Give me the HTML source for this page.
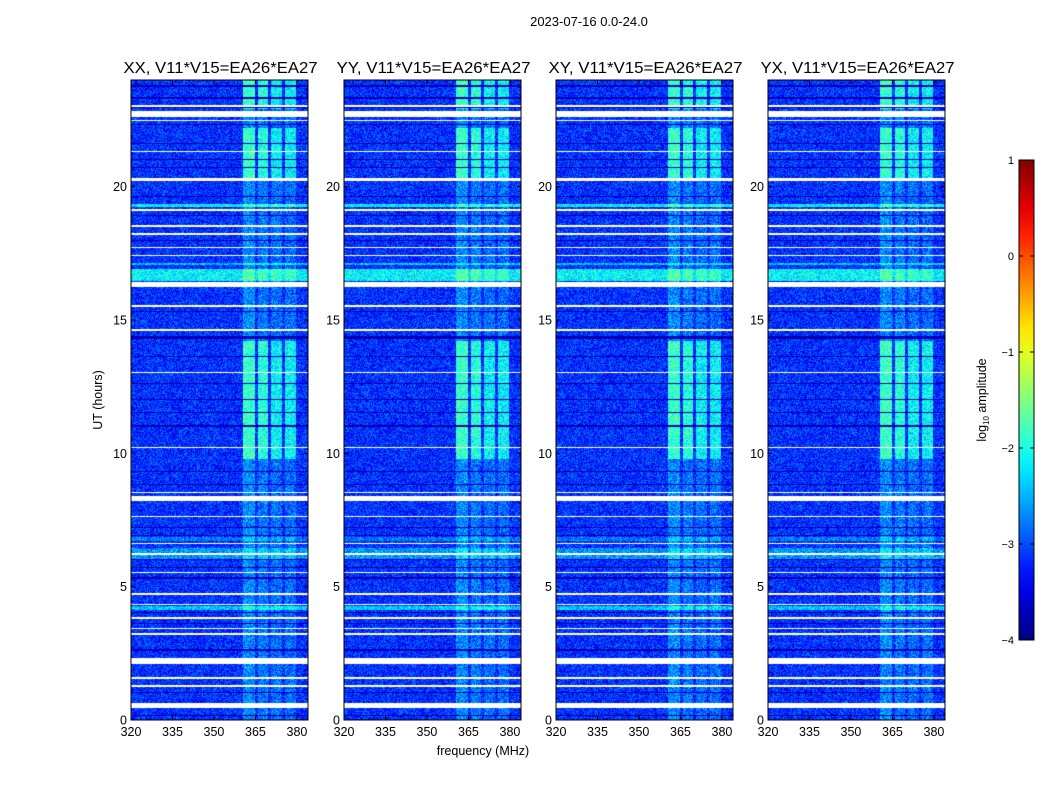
<!DOCTYPE html>
<html><head><meta charset="utf-8">
<style>
body{margin:0;background:#fff;width:1050px;height:800px;overflow:hidden;position:relative;font-family:"Liberation Sans",sans-serif;}
canvas{position:absolute;}
svg{position:absolute;left:0;top:0;}
</style></head>
<body>
<canvas id="c0" width="177" height="640" style="left:131px;top:80px;width:177px;height:640px"></canvas>
<canvas id="c1" width="177" height="640" style="left:344px;top:80px;width:177px;height:640px"></canvas>
<canvas id="c2" width="177" height="640" style="left:556px;top:80px;width:177px;height:640px"></canvas>
<canvas id="c3" width="177" height="640" style="left:768px;top:80px;width:177px;height:640px"></canvas>
<svg id="s" width="1050" height="800"></svg>
<script>
// ---- data ----
const panelTitles = ["XX, V11*V15=EA26*EA27","YY, V11*V15=EA26*EA27","XY, V11*V15=EA26*EA27","YX, V11*V15=EA26*EA27"];
const xTicks = [320,335,350,365,380];
const yTicks = [0,5,10,15,20];
const cbTicks = [1,0,-1,-2,-3,-4];
const freqRange = [320,384];
const timeRange = [0,24];
const baseLevel = -3.15;
// RFI bands [fStart,fEnd,quietBoost,activeBoost]
const bands = [[360.5,364.8,0.45,1.3],[365.9,369.5,0.35,1.2],[370.6,374.6,0.3,1.0],[375.7,379.7,0.3,1.0]];
// active intervals (hours) where bands are strong
const activeSpans = [[22.9,24],[20.3,22.2],[9.8,14.2]];
// flagged (white) intervals in hours
const gaps = [[23.0,23.05],[22.6,22.85],[22.45,22.5],[21.3,21.35],[20.2,20.33],[19.1,19.15],[18.5,18.55],[18.2,18.25],[17.7,17.75],[17.4,17.45],[16.25,16.42],[15.5,15.55],[14.6,14.65],[13.0,13.05],[10.2,10.25],[8.5,8.55],[8.2,8.4],[7.6,7.65],[6.6,6.65],[6.2,6.25],[5.5,5.55],[4.7,4.75],[4.3,4.35],[3.8,3.85],[3.4,3.45],[3.2,3.25],[2.1,2.32],[1.55,1.6],[1.25,1.3],[0.45,0.65]];
// dark (low) lines in hours
const darkLines = [[23.75,23.8],[23.3,23.35],[22.95,23.0],[22.3,22.35],[21.6,21.65],[21.0,21.05],[20.7,20.75],[19.6,19.65],[18.9,18.95],[17.95,18.0],[15.3,15.35],[14.3,14.4],[13.6,13.65],[12.6,12.65],[12.0,12.05],[11.5,11.55],[11.0,11.05],[9.3,9.35],[8.8,8.85],[7.2,7.25],[6.9,6.95],[6.0,6.05],[5.7,5.75],[5.3,5.35],[4.0,4.05],[3.6,3.65],[2.6,2.65],[1.0,1.05],[0.15,0.2]];
// broadband bright intervals [start,end,boost]
const brightRows = [[19.25,19.35,1.0],[16.45,16.9,1.0],[17.05,17.12,0.7],[6.05,6.45,0.5],[6.7,6.85,0.35],[4.12,4.28,0.75]];
const vmin=-4, vmax=1;

function inSpan(h,list){for(const s of list){if(h>=s[0]&&h<s[1])return s;}return null;}
function hash(a,b,c){let x=(a*374761393+b*668265263+c*1442695041)|0;x=(x^(x>>>13))*1274126177|0;x^=x>>>16;return (x>>>0)/4294967296;}
function jet(v){let t=(v-vmin)/(vmax-vmin);t=Math.max(0,Math.min(1,t));
 const f=(x)=>Math.max(0,Math.min(1,1.5-Math.abs(4*t-x)));
 return [f(3)*255,f(2)*255,f(1)*255];}

for(let p=0;p<4;p++){
 const cv=document.getElementById('c'+p),ctx=cv.getContext('2d');
 const W=cv.width,H=cv.height,img=ctx.createImageData(W,H);
 for(let r=0;r<H;r++){
  const h=timeRange[1]-(r+0.5)/H*(timeRange[1]-timeRange[0]);
  const gap=inSpan(h,gaps), dark=inSpan(h,darkLines), br=inSpan(h,brightRows), act=inSpan(h,activeSpans);
  for(let c=0;c<W;c++){
   const f=freqRange[0]+(c+0.5)/W*(freqRange[1]-freqRange[0]);
   let col;
   if(gap){col=[255,255,255];}
   else{
    let v=baseLevel+(hash(r,c,p)-0.5)*0.9;
    const b=bands.find(b=>f>=b[0]&&f<b[1]);
    if(b)v+=act?b[3]:b[2];
    if(br)v+=br[2];
    if(dark)v=-3.9+hash(c,r,p)*0.3;
    col=jet(v);
   }
   const i=(r*W+c)*4;img.data[i]=col[0];img.data[i+1]=col[1];img.data[i+2]=col[2];img.data[i+3]=255;
  }
 }
 ctx.putImageData(img,0,0);
}

// ---- axes ----
const NS="http://www.w3.org/2000/svg",svg=document.getElementById('s');
function el(tag,attrs,txt){const e=document.createElementNS(NS,tag);for(const k in attrs)e.setAttribute(k,attrs[k]);if(txt!==undefined)e.textContent=txt;svg.appendChild(e);return e;}
const lefts=[131,344,556,768],PW=177,PT=80,PH=640;
function xs(p,f){return lefts[p]+(f-freqRange[0])/(freqRange[1]-freqRange[0])*PW;}
function ys(h){return PT+PH-(h-timeRange[0])/(timeRange[1]-timeRange[0])*PH;}
let t=el('text',{x:589,y:26,'font-size':13,'text-anchor':'middle'},'2023-07-16 0.0-24.0');

for(let p=0;p<4;p++){
 let fr=el('rect',{x:lefts[p],y:PT,width:PW,height:PH,fill:'none',stroke:'#000','stroke-width':1});
 
 let ti=el('text',{x:lefts[p]+PW/2+1,y:73,'font-size':15.5,'text-anchor':'middle',textLength:194,lengthAdjust:'spacingAndGlyphs'},panelTitles[p]);
 
 xTicks.forEach(v=>{const x=xs(p,v);
  el('line',{x1:x,x2:x,y1:PT+PH,y2:PT+PH-4,stroke:'#000'});el('line',{x1:x,x2:x,y1:PT,y2:PT+4,stroke:'#000'});
  const l=el('text',{x:x,y:736,'font-size':12.5,'text-anchor':'middle'},v);
  });
 yTicks.forEach(v=>{const y=ys(v);
  el('line',{x1:lefts[p],x2:lefts[p]+4,y1:y,y2:y,stroke:'#000'});el('line',{x1:lefts[p]+PW,x2:lefts[p]+PW-4,y1:y,y2:y,stroke:'#000'});
  const l=el('text',{x:lefts[p]-4,y:y+4.5,'font-size':12.5,'text-anchor':'end'},v);
  });
}
t=el('text',{x:483,y:755,'font-size':12.5,'text-anchor':'middle'},'frequency (MHz)');

t=el('text',{x:0,y:0,'font-size':12.5,'text-anchor':'middle',transform:'translate(102,400) rotate(-90)'},'UT (hours)');

// colorbar
const cbX=1019,cbY=160,cbW=15,cbH=480;
const defs=el('defs',{});const g=document.createElementNS(NS,'linearGradient');g.setAttribute('id','jet');g.setAttribute('x1',0);g.setAttribute('y1',1);g.setAttribute('x2',0);g.setAttribute('y2',0);defs.appendChild(g);
for(let i=0;i<=20;i++){const v=vmin+i/20*(vmax-vmin),c=jet(v);const s=document.createElementNS(NS,'stop');s.setAttribute('offset',i/20);s.setAttribute('stop-color',`rgb(${c.map(Math.round).join(',')})`);g.appendChild(s);}
let cb=el('rect',{x:cbX,y:cbY,width:cbW,height:cbH,fill:'url(#jet)',stroke:'#000','stroke-width':1});

cbTicks.forEach(v=>{const y=cbY+cbH-(v-vmin)/(vmax-vmin)*cbH;
 el('line',{x1:cbX,x2:cbX+4,y1:y,y2:y,stroke:'#000'});el('line',{x1:cbX+cbW,x2:cbX+cbW-4,y1:y,y2:y,stroke:'#000'});
 const l=el('text',{x:cbX-5,y:y+4,'font-size':11,'text-anchor':'end'},v<0?'\u2212'+(-v):v);
 });
t=el('text',{x:0,y:0,'font-size':12.5,'text-anchor':'middle',transform:'translate(986,400) rotate(-90)'});
t.innerHTML='log<tspan font-size="8" dy="3">10</tspan><tspan dy="-3"> amplitude</tspan>';

</script>
</body></html>
